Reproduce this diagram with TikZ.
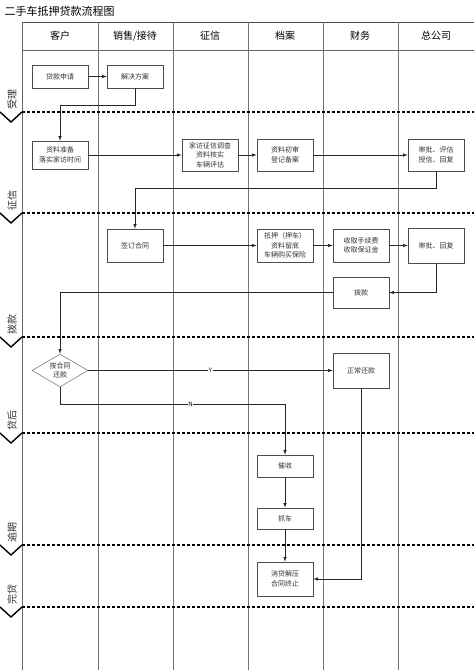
\documentclass[tikz,border=0pt]{standalone}
\usepackage{fontspec}
\setmainfont{Noto Sans CJK SC}
\usetikzlibrary{arrows}
\usetikzlibrary{shapes.geometric}

\begin{document}
\begin{tikzpicture}[x=1pt,y=-1pt,
  box/.style={draw=black!70,line width=0.7pt,minimum width=56pt,minimum height=23pt,
    inner sep=1pt,align=center,text=black!80,font=\fontsize{7}{9.5}\selectfont},
  choice/.style={diamond,draw=black!45,line width=0.7pt,minimum width=56pt,minimum height=33pt,
    aspect=1.7,inner sep=0pt,align=center,text=black!80,font=\fontsize{7}{9.5}\selectfont},
  flow/.style={->,>=latex,line width=0.6pt,draw=black!85},
  tag/.style={fill=white,inner sep=0.5pt,text=black,font=\fontsize{6}{6}\selectfont},
  lane/.style={black!55,line width=0.7pt},
  phase/.style={black,line width=1.4pt,dash pattern=on 3pt off 2pt},
  ]
  \useasboundingbox (0,0) rectangle (474,670);

  \node[anchor=west,font=\fontsize{11}{11}\selectfont] (title) at (1,11) {二手车抵押贷款流程图};

  % lanes and header
  \draw[black!70,line width=0.8pt] (22,22) -- (474,22);
  \draw[black!60,line width=0.7pt] (22,50) -- (474,50);
  \draw[black!60,line width=0.8pt] (22,22) -- (22,670);
  \foreach \x in {98,173,248,323,398} {
      \draw[lane] (\x,22) -- (\x,670);
    }
  \foreach \x/\t in {60/客户,135/{销售/接待},210/征信,285/档案,360/财务,436/总公司} {
      \node[font=\fontsize{10}{10}\selectfont] (head\x) at (\x,36) {\t};
    }

  % phases
  \foreach \y/\t in {112/受理,213/征信,337/拨款,433/贷后,545/逾期,607/完贷} {
      \draw[phase] (22,\y) -- (474,\y);
      \draw[black,line width=1.4pt] (0,\y) -- (11,\y+10) -- (22,\y);%chevron
      \node[rotate=90,font=\fontsize{10}{10}\selectfont,text=black!80] (phase\y) at (12,\y-13) {\t};
    }

  % steps
  \node[box] (apply) at (60,76.5) {贷款申请};
  \node[box] (plan) at (135,76.5) {解决方案};
  \node[box,minimum height=28pt] (prep) at (60,155) {资料准备\\落实家访时间};
  \node[box,minimum height=32pt] (visit) at (210,155) {家访征信调查\\资料核实\\车辆评估};
  \node[box,minimum height=32pt] (check) at (285,155) {资料初审\\登记备案};
  \node[box,minimum height=32pt] (hqa) at (436,155) {审批、评估\\授信、回复};
  \node[box,minimum height=33pt] (sign) at (135,245.5) {签订合同};
  \node[box,minimum height=33pt] (pledge) at (285,245.5) {抵押（押车）\\资料留底\\车辆购买保险};
  \node[box,minimum height=33pt] (fee) at (361,245.5) {收取手续费\\收取保证金};
  \node[box,minimum height=35pt] (hqb) at (436,245.5) {审批、回复};
  \node[box,minimum height=31pt] (loan) at (361,292.5) {拨款};
  \node[choice] (repay) at (60,370.5) {按合同\\还款};
  \node[box,minimum height=35pt] (normal) at (361,370.5) {正常还款};
  \node[box,minimum height=22pt] (urge) at (285,466) {催收};
  \node[box,minimum height=21pt] (seize) at (285,518.5) {抓车};
  \node[box,minimum height=34pt] (close) at (285,579) {消贷解压\\合同终止};

  % connectors
  \draw[flow] (apply) -- (plan);
  \draw[flow] (plan.south) -- ++(0,17) -| (prep.north);
  \draw[flow] (prep) -- (visit);
  \draw[flow] (visit) -- (check);
  \draw[flow] (check) -- (hqa);
  \draw[flow] (hqa.south) -- ++(0,17) -| (sign.north);
  \draw[flow] (sign) -- (pledge);
  \draw[flow] (pledge) -- (fee);
  \draw[flow] (fee) -- (hqb);
  \draw[flow] (hqb.south) |- (loan.east);
  \draw[flow] (loan.west) -| (repay.north);
  \draw[flow] (repay.east) -- node[tag] {Y} (normal.west);
  \draw[flow] (repay.south) -- ++(0,17) -| node[tag,pos=0.29] {N} (urge.north);
  \draw[flow] (urge) -- (seize);
  \draw[flow] (seize) -- (close);
  \draw[flow] (normal.south) |- (close.east);
\end{tikzpicture}
\end{document}
